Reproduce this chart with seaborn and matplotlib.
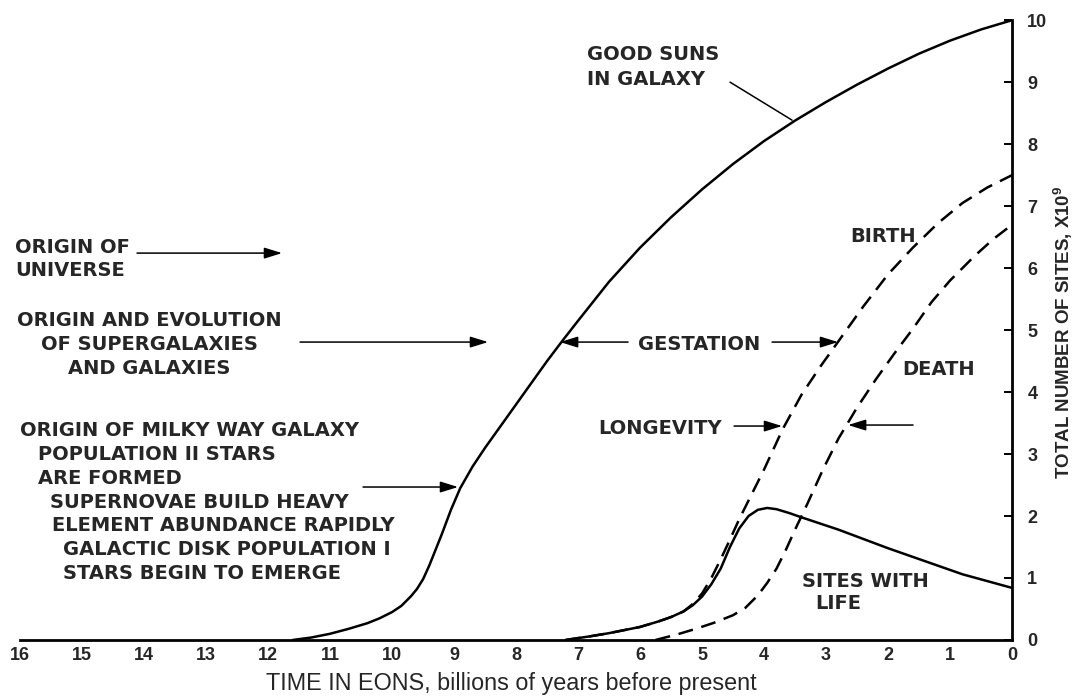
import matplotlib
matplotlib.use("Agg")
import matplotlib.pyplot as plt
import seaborn as sns
import pandas as pd

# time in eons (billions of years before present) and total sites (x10^9)
suns_t = [11.6, 11.3, 11.0, 10.7, 10.4, 10.2, 10.0, 9.85, 9.7, 9.6, 9.5, 9.4,
          9.3, 9.2, 9.05, 8.9, 8.7, 8.5, 8.25, 8.0, 7.75, 7.5, 7.25, 7.0, 6.5,
          6.0, 5.5, 5.0, 4.5, 4.0, 3.5, 3.0, 2.5, 2.0, 1.5, 1.0, 0.5, 0.0]
suns_n = [0.0, 0.04, 0.1, 0.18, 0.27, 0.35, 0.45, 0.55, 0.7, 0.82, 0.98, 1.2,
          1.45, 1.7, 2.1, 2.45, 2.8, 3.1, 3.45, 3.8, 4.15, 4.5, 4.83, 5.15, 5.78,
          6.33, 6.82, 7.27, 7.68, 8.05, 8.38, 8.68, 8.96, 9.22, 9.46, 9.67, 9.85, 10.0]

birth_t = [7.2, 6.8, 6.5, 6.2, 6.0, 5.7, 5.5, 5.3, 5.15, 5.0, 4.85, 4.7, 4.55,
           4.4, 4.2, 4.0, 3.7, 3.4, 3.1, 2.8, 2.4, 2.0, 1.6, 1.2, 0.8, 0.4, 0.0]
birth_n = [0.0, 0.06, 0.11, 0.17, 0.21, 0.3, 0.37, 0.46, 0.58, 0.75, 1.0, 1.3, 1.62,
           1.95, 2.35, 2.75, 3.4, 3.95, 4.4, 4.82, 5.38, 5.9, 6.33, 6.72, 7.05, 7.3, 7.5]

death_t = [5.75, 5.4, 5.1, 4.8, 4.5, 4.3, 4.1, 3.95, 3.8, 3.65, 3.5, 3.3, 3.05,
           2.8, 2.5, 2.2, 1.9, 1.6, 1.3, 1.0, 0.6, 0.3, 0.0]
death_n = [0.0, 0.09, 0.18, 0.28, 0.4, 0.52, 0.72, 0.92, 1.15, 1.45, 1.78, 2.2, 2.75,
           3.25, 3.75, 4.2, 4.62, 5.02, 5.45, 5.8, 6.2, 6.47, 6.7]

life_t = [7.2, 6.8, 6.5, 6.2, 6.0, 5.7, 5.5, 5.3, 5.15, 5.0, 4.85, 4.7, 4.55, 4.4,
          4.25, 4.1, 3.95, 3.8, 3.6, 3.4, 3.1, 2.8, 2.4, 2.0, 1.6, 1.2, 0.8, 0.4, 0.0]
life_n = [0.0, 0.06, 0.11, 0.17, 0.21, 0.3, 0.37, 0.46, 0.56, 0.7, 0.9, 1.15, 1.5, 1.8,
          2.0, 2.1, 2.13, 2.11, 2.05, 1.98, 1.88, 1.78, 1.63, 1.48, 1.34, 1.2, 1.06, 0.95, 0.84]

x_ticks = list(range(0, 17))
y_ticks = list(range(0, 11))

sns.set_theme(style="white")
plt.rcParams["font.family"] = ["Liberation Sans", "DejaVu Sans"]
plt.rcParams["mathtext.default"] = "regular"

fig = plt.figure(figsize=(10.83, 6.96), dpi=100)
ax = fig.add_axes([0.0185, 0.0805, 0.916, 0.8905])

curves = [
    (suns_t, suns_n, None),
    (life_t, life_n, None),
    (birth_t, birth_n, (6, 3.5)),
    (death_t, death_n, (6, 3.5)),
]
for t, n, dash in curves:
    df = pd.DataFrame({"t": t, "n": n})
    sns.lineplot(data=df, x="t", y="n", ax=ax, color="black",
                 linewidth=1.8, sort=False, estimator=None)
    if dash is not None:
        ax.lines[-1].set_dashes(dash)

ax.set_xlim(16, 0)
ax.set_ylim(0, 10)
ax.set_xticks(x_ticks)
ax.set_yticks(y_ticks)
ax.yaxis.tick_right()
for side in ["top", "left"]:
    ax.spines[side].set_visible(False)
for side in ["bottom", "right"]:
    ax.spines[side].set_color("black")
    ax.spines[side].set_linewidth(2)
ax.tick_params(axis="x", direction="in", length=6, width=1.4, color="black",
               labelsize=13, pad=5)
ax.tick_params(axis="y", direction="in", length=6, width=1.4, color="black",
               labelsize=13, pad=11, right=True, left=False)
for lab in ax.get_xticklabels() + ax.get_yticklabels():
    lab.set_fontweight("bold")
ax.set_xlabel("")
ax.set_ylabel("")


def px(x, y):
    # pixel position of the reference picture -> data coordinates
    return 16 - (x - 20) / 62, (640 - y) / 62


def label(x, y, s, ha="left"):
    dx, dy = px(x, y)
    ax.text(dx, dy, s, ha=ha, va="center_baseline", fontsize=14,
            fontweight="bold", family=["DejaVu Sans"])


def arrow(x0, y0, x1, y1, head=True):
    style = "-|>,head_length=0.9,head_width=0.28" if head else "-"
    ax.annotate("", xy=px(x1, y1), xytext=px(x0, y0),
                arrowprops=dict(arrowstyle=style, color="black", lw=1.1,
                                shrinkA=0, shrinkB=0))


# axis titles
ax.text(*px(511, 684), "TIME IN EONS, billions of years before present",
        ha="center", va="center", fontsize=16.8)
ax.text(*px(1063, 332), "TOTAL NUMBER OF SITES, X10$^9$", rotation=90,
        ha="center", va="center", fontsize=13.5, fontweight="bold")

label(15, 245, "ORIGIN OF")
label(15, 268, "UNIVERSE")
arrow(137, 253, 282, 253)

label(149, 318, "ORIGIN AND EVOLUTION", ha="center")
label(149, 342, "OF SUPERGALAXIES", ha="center")
label(149, 366, "AND GALAXIES", ha="center")
arrow(300, 342, 488, 342)

milky = [(20, 428, "ORIGIN OF MILKY WAY GALAXY"),
         (38, 452, "POPULATION II STARS"),
         (38, 476, "ARE FORMED"),
         (50, 500, "SUPERNOVAE BUILD HEAVY"),
         (52, 523, "ELEMENT ABUNDANCE RAPIDLY"),
         (63, 547, "GALACTIC DISK POPULATION I"),
         (63, 572, "STARS BEGIN TO EMERGE")]
for x, y, s in milky:
    label(x, y, s)
arrow(363, 487, 458, 487)

label(587, 52, "GOOD SUNS")
label(587, 77, "IN GALAXY")
arrow(730, 82, 792, 120, head=False)

label(850, 234, "BIRTH")
label(638, 342, "GESTATION")
arrow(628, 342, 560, 342)
arrow(772, 342, 838, 342)
label(598, 426, "LONGEVITY")
arrow(734, 426, 782, 426)
label(902, 367, "DEATH")
arrow(913, 425, 848, 425)
label(802, 580, "SITES WITH")
label(815, 602, "LIFE")

fig.savefig("out.png", dpi=100)
